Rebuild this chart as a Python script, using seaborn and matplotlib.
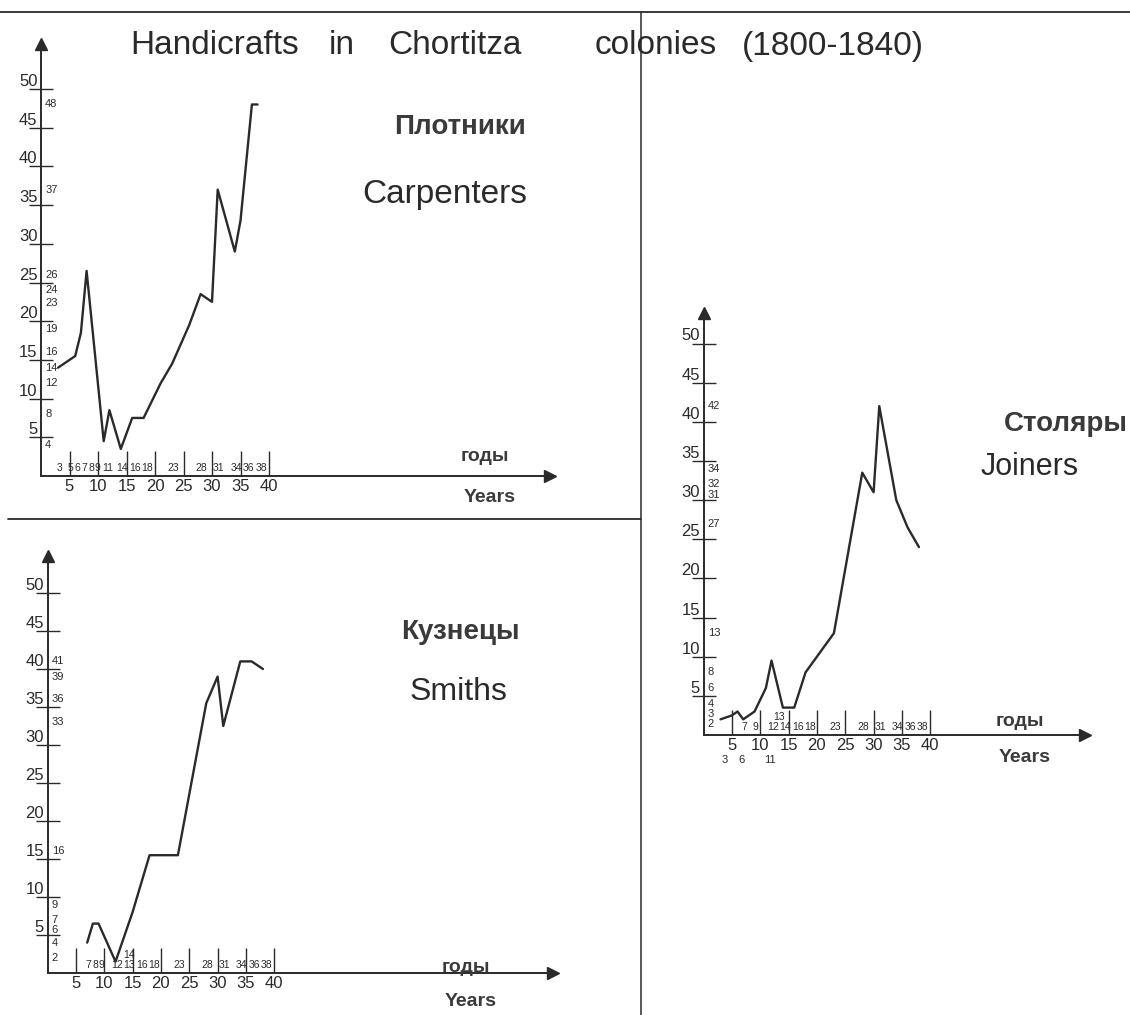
import numpy as np
import pandas as pd
import matplotlib
matplotlib.use("Agg")
import matplotlib.pyplot as plt
import seaborn as sns
from matplotlib.lines import Line2D

W, H = 1130, 1015
INK = "#2a2a2a"

# Плотники / Carpenters
carp_years = [3, 6, 7, 8, 11, 12, 14, 16, 18, 21, 23, 26, 28, 30, 31, 34, 35, 37, 38]
carp_values = [14, 15.5, 18.5, 26.5, 4.5, 8.5, 3.5, 7.5, 7.5, 12, 14.5, 19.5, 23.5, 22.5, 37, 29, 33, 48, 48]
carp_value_labels = [48, 37, 26, 24, 23, 19, 16, 14, 12, 8, 4]
carp_year_labels = [3, 5, 6, 7, 8, 9, 11, 14, 16, 18, 23, 28, 31, 34, 36, 38]

# Кузнецы / Smiths
smith_years = [7, 8, 9, 12, 15, 18, 23, 28, 30, 31, 34, 36, 38]
smith_values = [4, 6.5, 6.5, 1.5, 8, 15.5, 15.5, 35.5, 39, 32.5, 41, 41, 40]
smith_value_labels = [41, 39, 36, 33, 16, 9, 7, 6, 4, 2]
smith_year_labels = [7, 8, 9, 12, 13, 14, 16, 18, 23, 28, 31, 34, 36, 38]

# Столяры / Joiners
join_years = [3, 5, 6, 7, 9, 11, 12, 14, 16, 18, 20, 23, 28, 30, 31, 34, 36, 38]
join_values = [2, 2.5, 3, 2, 3, 6, 9.5, 3.5, 3.5, 8, 10, 13, 33.5, 31, 42, 30, 26.5, 24]
join_value_labels = [42, 34, 32, 31, 27, 13, 8, 6, 4, 3, 2]
join_year_labels = [3, 6, 7, 9, 11, 12, 13, 14, 16, 18, 23, 28, 31, 34, 36, 38]

y_ticks = [5, 10, 15, 20, 25, 30, 35, 40, 45, 50]
x_ticks = [5, 10, 15, 20, 25, 30, 35, 40]

title_words = ["Handicrafts", "in", "Chortitza", "colonies", "(1800-1840)"]

sns.set_theme(style="white")
plt.rcParams['font.family'] = ['Liberation Sans', 'DejaVu Sans']

fig = plt.figure(figsize=(W / 100, H / 100), dpi=100)
fig.patch.set_facecolor("white")


def fx(x):
    return x / W


def fy(y):
    return 1 - y / H


def stacked(vals, gap):
    pos = []
    for v in vals:
        pos.append(v if not pos else min(v, pos[-1] - gap))
    return pos


def packed(labels, px_year, fs):
    # slide small year labels right so they do not run into each other
    digit = 0.556 * fs * 100 / 72
    out, right = [], -1e9
    for yr in labels:
        w = len(str(yr)) * digit
        c = max((yr + 0.2) * px_year, right + w / 2 + 1)
        out.append(c / px_year)
        right = c + w / 2
    return out


def panel(ox, oy, px_year, px_unit, x_end, y_top, years, values,
          value_labels, year_labels, gap, raised=(), lowered=()):
    ax = fig.add_axes([fx(ox), fy(oy), (x_end - ox) / W, (oy - y_top) / H])
    ax.patch.set_alpha(0)
    ax.set_xlim(0, (x_end - ox) / px_year)
    ax.set_ylim(0, (oy - y_top) / px_unit)

    df = pd.DataFrame({"year": years, "value": values})
    sns.lineplot(data=df, x="year", y="value", ax=ax, color=INK, lw=1.7)

    for s in ["top", "right"]:
        ax.spines[s].set_visible(False)
    for s in ["left", "bottom"]:
        ax.spines[s].set_color(INK)
        ax.spines[s].set_linewidth(1.4)
    ax.plot(1, 0, ">", transform=ax.transAxes, clip_on=False, color=INK, ms=8)
    ax.plot(0, 1, "^", transform=ax.transAxes, clip_on=False, color=INK, ms=8)

    ax.set_yticks(y_ticks)
    ax.set_yticklabels([str(t) for t in y_ticks])
    ax.set_xticks(x_ticks)
    ax.set_xticklabels([str(t) for t in x_ticks])
    ax.tick_params(axis="y", direction="inout", length=17, width=1, pad=-6,
                   labelsize=12, colors=INK, left=True)
    ax.tick_params(axis="x", direction="in", length=18, width=1, pad=2,
                   labelsize=12, colors=INK, bottom=True)
    for lab in ax.get_yticklabels():
        lab.set_verticalalignment("bottom")
    ax.set_xlabel("")
    ax.set_ylabel("")

    for v, p in zip(value_labels, stacked(value_labels, gap)):
        ax.annotate(str(v), xy=(0, p), xycoords=("axes fraction", "data"),
                    xytext=(3, 0), textcoords="offset points",
                    ha="left", va="center", fontsize=8, color=INK)

    row = [y for y in year_labels if y not in raised and y not in lowered]
    for yr, xp in zip(row, packed(row, px_year, 7.5)):
        ax.annotate(str(yr), xy=(xp, 0), xytext=(0, 2), textcoords="offset points",
                    ha="center", va="bottom", fontsize=7.5, color=INK)
    for yr in raised:
        ax.annotate(str(yr), xy=(yr + 0.3, 0), xytext=(0, 9), textcoords="offset points",
                    ha="center", va="bottom", fontsize=7.5, color=INK)
    for yr in lowered:
        ax.annotate(str(yr), xy=(yr + 0.7, 0), xytext=(0, -18), textcoords="offset points",
                    ha="center", va="center", fontsize=8, color=INK)
    return ax


panel(41, 476, 5.7, 7.74, 550, 44, carp_years, carp_values,
      carp_value_labels, carp_year_labels, gap=1.6)
panel(47.5, 973, 5.67, 7.6, 553, 556, smith_years, smith_values,
      smith_value_labels, smith_year_labels, gap=1.4, raised=(14,))
panel(703.5, 735, 5.67, 7.83, 1085, 313, join_years, join_values,
      join_value_labels, join_year_labels, gap=1.3, raised=(13,), lowered=(3, 6, 11))

# frame lines of the sheet
fig.add_artist(Line2D([0, 1], [fy(12), fy(12)], transform=fig.transFigure, color=INK, lw=1.3))
fig.add_artist(Line2D([fx(641), fx(641)], [fy(12), 0], transform=fig.transFigure, color=INK, lw=1.1))
fig.add_artist(Line2D([fx(8), fx(641)], [fy(519), fy(519)], transform=fig.transFigure, color=INK, lw=1.3))

# title
for word, cx in zip(title_words, [215, 342, 455, 656, 833]):
    fig.text(fx(cx), fy(46), word, ha="center", va="center", fontsize=24, color=INK)

# panel names
fig.text(fx(460), fy(127), "Плотники", ha="center", va="center", fontsize=20,
         fontweight="bold", color="#3a3a3a")
fig.text(fx(445), fy(195), "Carpenters", ha="center", va="center", fontsize=24, color=INK)
fig.text(fx(460), fy(632), "Кузнецы", ha="center", va="center", fontsize=20,
         fontweight="bold", color="#3a3a3a")
fig.text(fx(458), fy(692), "Smiths", ha="center", va="center", fontsize=23, color=INK)
fig.text(fx(1004), fy(424), "Столяры", ha="left", va="center", fontsize=20,
         fontweight="bold", color="#3a3a3a")
fig.text(fx(1030), fy(467), "Joiners", ha="center", va="center", fontsize=22, color=INK)

# axis names
for cx, y1, y2 in [(485, 456, 497), (466, 968, 1002), (1020, 722, 757)]:
    fig.text(fx(cx), fy(y1), "годы", ha="center", va="center", fontsize=14,
             fontweight="bold", color="#3a3a3a")
    fig.text(fx(cx + 5), fy(y2), "Years", ha="center", va="center", fontsize=14,
             fontweight="bold", color="#3a3a3a")

fig.savefig("out.png", dpi=100, facecolor="white")
